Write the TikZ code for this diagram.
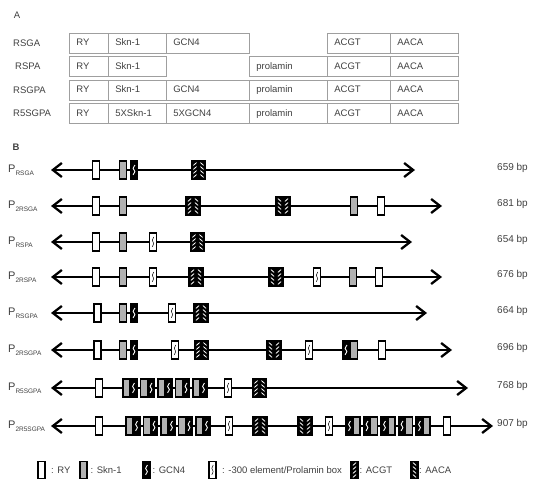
\documentclass[tikz,border=0pt]{standalone}
\usepackage{fontspec}
\setmainfont{Liberation Sans}
\usetikzlibrary{arrows.meta}
\usetikzlibrary{positioning}

\newcommand{\psub}[1]{\raisebox{-2.5pt}{\fontsize{6.5}{7}\selectfont #1}}

\begin{document}
\begin{tikzpicture}[x=1pt,y=-1pt,font=\fontsize{9.5}{11}\selectfont,text=black!75]
	\tikzstyle{cell}=[draw=gray!75,line width=0.7pt,anchor=north west,minimum height=20pt,
		inner xsep=7pt,inner ysep=0pt,align=left,text height=7pt,text depth=2pt]
	\tikzstyle{elem}=[draw=black,line width=1.1pt,minimum width=7pt,minimum height=18pt,inner sep=0pt]
	\tikzstyle{ry}=[elem,fill=white]
	\tikzstyle{skn}=[elem,fill=gray!60]
	\tikzstyle{gcn}=[elem,fill=black,path picture={
		\draw[white,line width=0.9pt] ([shift={(0.9pt,5pt)}]path picture bounding box.center)
			-- ++(-1.8pt,-3.3pt) -- ++(1.8pt,-3.3pt) -- ++(-1.8pt,-3.3pt);}]
	\tikzstyle{prol}=[elem,fill=white,path picture={
		\draw[black,line width=0.5pt] ([shift={(0.7pt,5pt)}]path picture bounding box.center)
			-- ++(-1.4pt,-3.3pt) -- ++(1.4pt,-3.3pt) -- ++(-1.4pt,-3.3pt);}]
	\tikzstyle{acgt}=[elem,fill=black,path picture={
		\foreach \k in {-7.4,-3.4,0.6,4.6}
		\draw[white,line width=0.8pt] ([shift={(-1.6pt,\k pt)}]path picture bounding box.center) -- ++(3.2pt,2.8pt);}]
	\tikzstyle{aaca}=[elem,fill=black,path picture={
		\foreach \k in {-4.6,-0.6,3.4,7.4}
		\draw[white,line width=0.8pt] ([shift={(-1.6pt,\k pt)}]path picture bounding box.center) -- ++(3.2pt,-2.8pt);}]
	\tikzstyle{dna}=[line width=2.3pt,{Straight Barb[length=9pt,width=14pt]}-{Straight Barb[length=9pt,width=14pt]}]
	\tikzstyle{plab}=[anchor=west,inner sep=0pt,font=\fontsize{11}{13}\selectfont]
	\tikzstyle{bp}=[anchor=west,inner sep=0pt,font=\fontsize{10}{12}\selectfont]
	\tikzstyle{key}=[anchor=west,inner sep=0pt]

	\useasboundingbox (0,0) rectangle (550,500);

	% A: constructs
	\node[inner sep=0pt] (lA) at (17,15) {A};
	\node[key] (cA1) at (13,43) {RSGA};
	\node[key] (cA2) at (15,66) {RSPA};
	\node[key] (cA3) at (13,90) {RSGPA};
	\node[key] (cA4) at (13,113.5) {R5SGPA};
	\foreach \x/\w/\txt [count=\n] in {69/25/RY,108/44/Skn-1,166/69/GCN4,327/49/ACGT,390/54/AACA}
		\node[cell,text width=\w pt] (a1-\n) at (\x,33) {\txt};
	\foreach \x/\w/\txt [count=\n] in {69/25/RY,108/44/Skn-1,249/64/prolamin,327/49/ACGT,390/54/AACA}
		\node[cell,text width=\w pt] (a2-\n) at (\x,56.5) {\txt};
	\foreach \x/\w/\txt [count=\n] in {69/25/RY,108/44/Skn-1,166/69/GCN4,249/64/prolamin,327/49/ACGT,390/54/AACA}
		\node[cell,text width=\w pt] (a3-\n) at (\x,80) {\txt};
	\foreach \x/\w/\txt [count=\n] in {69/25/RY,108/44/5XSkn-1,166/69/5XGCN4,249/64/prolamin,327/49/ACGT,390/54/AACA}
		\node[cell,text width=\w pt] (a4-\n) at (\x,103.5) {\txt};

	% B: promoters
	\node[inner sep=0pt,font=\fontsize{9.5}{11}\bfseries] (lB) at (16,147) {B};
	\foreach \r/\y/\tip/\name/\len/\els in {
		1/170/415/RSGA/659/{ry/96,skn/123,gcn/134,acgt/195,aaca/202},
		2/206/442/2RSGA/681/{ry/96,skn/123,acgt/189.5,aaca/196.5,aaca/279.5,acgt/286.5,skn/354,ry/381},
		3/242/412/RSPA/654/{ry/96,skn/123,prol/153,acgt/194,aaca/201},
		4/277/442/2RSPA/676/{ry/96,skn/123,prol/153,acgt/192.5,aaca/199.5,aaca/272.5,acgt/279.5,prol/317,skn/353,ry/379},
		5/313/427/RSGPA/664/{ry/97.5,skn/123,gcn/134,prol/172,acgt/197.5,aaca/204.5},
		6/350/452/2RSGPA/696/{ry/97.5,skn/123,gcn/134,prol/175,acgt/198,aaca/205,aaca/270.5,acgt/277.5,prol/309,gcn/346,skn/354,ry/382},
		7/388/468/R5SGPA/768/{ry/99,skn/126.5,gcn/133.5,skn/144,gcn/151,skn/161.5,gcn/168.5,skn/179,gcn/186,skn/196.5,gcn/203.5,prol/228,acgt/256,aaca/263},
		8/426/493/2R5SGPA/907/{ry/99,skn/129.5,gcn/136.5,skn/147,gcn/154,skn/164.5,gcn/171.5,skn/182,gcn/189,skn/199.5,gcn/206.5,prol/229,acgt/256.5,aaca/263.5,aaca/301.5,acgt/308.5,prol/329,gcn/349.5,skn/356.5,gcn/367,skn/374,gcn/384.5,skn/391.5,gcn/402,skn/409,gcn/419.5,skn/426.5,ry/447}}
	{
		\coordinate (l\r) at (51,\y);
		\coordinate (r\r) at (\tip,\y);
		\draw[dna] (l\r) -- (r\r);
		\foreach \t/\x [count=\n] in \els
			\node[\t] (b\r-\n) at (\x,\y) {};
		\node[plab] (p\r) at (8,\y) {P\psub{\name}};
		\node[bp] (bp\r) at (497,\y-2) {\len\ bp};
	}

	% key
	\foreach \t/\x/\tx/\txt [count=\n] in {ry/41.5/51/{: RY},skn/83.5/90.5/{: Skn-1},gcn/146.5/152.5/{: GCN4},
		prol/212.5/222/{: -300 element/Prolamin box},acgt/354.5/359.5/{: ACGT},aaca/414.5/419/{: AACA}}
	{
		\node[\t,minimum height=17pt] (k\n) at (\x,470) {};
		\node[key] (kt\n) at (\tx,470) {\txt};
	}
\end{tikzpicture}
\end{document}
